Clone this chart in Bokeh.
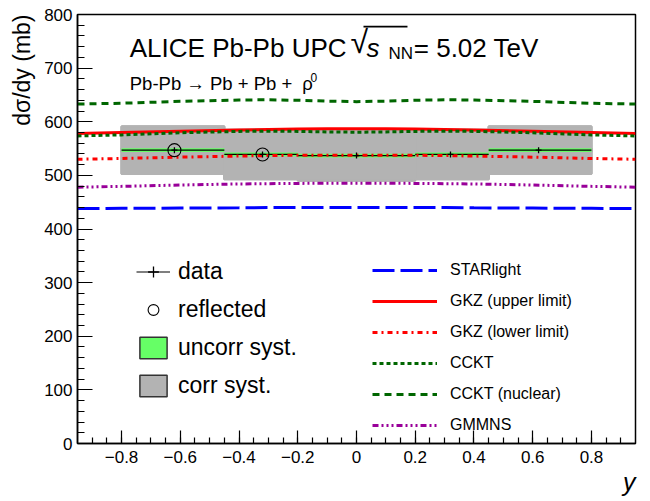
import math
from bokeh.plotting import figure
from bokeh.models import (Range1d, SingleIntervalTicker, CustomJSTickFormatter, Legend,
                          LegendItem, Label, Whisker, TeeHead, ColumnDataSource, BoxAnnotation,
                          Title)
from bokeh.embed import file_html
from bokeh.resources import INLINE

# ---------------- data ----------------
# measured bins (positive rapidity); negative side is the reflection
bin_lo = [-0.2, 0.2, 0.45]
bin_hi = [0.2, 0.45, 0.8]
bin_y = [0.0, 0.32, 0.62]
xsec = [537.0, 539.0, 547.0]
stat_err = [5.0, 5.0, 6.0]
uncorr_syst = [3.5, 3.5, 3.5]
corr_syst = [46.5, 46.0, 44.0]

# model predictions
model_rap = [-0.95, -0.8, -0.6, -0.4, -0.3, -0.2, -0.1, 0.0, 0.1, 0.2, 0.3, 0.4, 0.6, 0.8, 0.95]
starlight = [438, 438.5, 439, 439.5, 440, 440, 440, 440, 440, 440, 440, 439.5, 439, 438.5, 438]
gkz_upper = [578, 580, 582.5, 584.5, 585.5, 586.3, 586.8, 587, 586.8, 586.3, 585.5, 584.5, 582.5, 580, 578]
gkz_lower = [530, 531.5, 534, 536, 537, 537.5, 537.5, 537.5, 537.5, 537.5, 537, 536, 534, 531.5, 530]
cckt = [573.5, 575.5, 579.5, 582, 582.5, 582, 581, 580.5, 581, 582, 582.5, 582, 579.5, 575.5, 573.5]
cckt_nuclear = [633, 634.5, 638, 640.5, 641, 640, 638.5, 637.5, 638.5, 640, 641, 640.5, 638, 634.5, 633]
gmmns = [478, 479.5, 482, 484, 484.5, 485, 485.5, 485.5, 485.5, 485, 484.5, 484, 482, 479.5, 478]

# ---------------- build full (reflected + measured) bins ----------------
n = len(bin_lo)
refl_idx = list(range(n - 1, 0, -1))
all_lo = [-bin_hi[i] for i in refl_idx] + bin_lo
all_hi = [-bin_lo[i] for i in refl_idx] + bin_hi
all_y = [-bin_y[i] for i in refl_idx] + bin_y
all_x = [xsec[i] for i in refl_idx] + xsec
all_stat = [stat_err[i] for i in refl_idx] + stat_err
all_unc = [uncorr_syst[i] for i in refl_idx] + uncorr_syst
all_corr = [corr_syst[i] for i in refl_idx] + corr_syst

src = ColumnDataSource(dict(
    lo=all_lo, hi=all_hi, y=all_y, v=all_x,
    corr_lo=[v - c for v, c in zip(all_x, all_corr)],
    corr_hi=[v + c for v, c in zip(all_x, all_corr)],
    unc_lo=[v - c for v, c in zip(all_x, all_unc)],
    unc_hi=[v + c for v, c in zip(all_x, all_unc)],
    st_lo=[v - c for v, c in zip(all_x, all_stat)],
    st_hi=[v + c for v, c in zip(all_x, all_stat)],
))
refl_src = ColumnDataSource(dict(
    y=[-bin_y[i] for i in refl_idx],
    v=[xsec[i] for i in refl_idx],
))

FONT = "Liberation Sans"

p = figure(width=650, height=501, x_range=Range1d(-0.95, 0.95), y_range=Range1d(0, 800),
           output_backend="svg", toolbar_location=None,
           min_border_left=77, min_border_right=15, min_border_top=14, min_border_bottom=58)
p.grid.visible = False
p.outline_line_color = "black"
p.outline_line_width = 1.5
p.background_fill_color = "white"
p.border_fill_color = "white"

# axes
p.xaxis.ticker = SingleIntervalTicker(interval=0.2, num_minor_ticks=4)
p.yaxis.ticker = SingleIntervalTicker(interval=100, num_minor_ticks=5)
p.xaxis.formatter = CustomJSTickFormatter(code="""
if (Math.abs(tick) < 1e-9) { return "0"; }
return tick.toFixed(1).replace("-", "\u2212");
""")
for ax in (p.xaxis, p.yaxis):
    ax.major_tick_out = 0
    ax.minor_tick_out = 0
    ax.axis_line_color = "black"
    ax.axis_line_width = 1.5
    ax.major_tick_line_color = "black"
    ax.minor_tick_line_color = "black"
    ax.major_tick_line_width = 1.2
    ax.minor_tick_line_width = 1.2
    ax.major_label_text_font = FONT
    ax.major_label_text_font_size = "17px"
    ax.major_label_text_color = "black"
p.yaxis.major_tick_in = 15
p.yaxis.minor_tick_in = 7
p.xaxis.major_tick_in = 13
p.xaxis.minor_tick_in = 6
p.yaxis.major_label_standoff = 5
p.xaxis.major_label_standoff = 7

# axis titles (ROOT style: aligned to the axis end)
p.add_layout(Title(text="d\u03c3/dy (mb)", align="right", text_font=FONT, text_font_size="23px",
                   text_font_style="normal", text_color="black", standoff=13), "left")
p.add_layout(Title(text="y", align="right", text_font=FONT, text_font_size="25px",
                   text_font_style="italic", text_color="black", standoff=0), "below")

# legend-sample renderers, fully hidden below the visible boxes
unc_icon = p.quad(left="lo", right="hi", bottom="unc_lo", top="unc_hi", source=src,
                  fill_color="#66ff66", line_color="#333333", line_width=1.5)
corr_icon = p.quad(left="lo", right="hi", bottom="corr_lo", top="corr_hi", source=src,
                   fill_color="#b3b3b3", line_color="#333333", line_width=1.5)

# systematic boxes
gray_r = p.quad(left="lo", right="hi", bottom="corr_lo", top="corr_hi", source=src,
                fill_color="#b3b3b3", line_color="#b3b3b3", line_width=2.5)
green_r = p.quad(left="lo", right="hi", bottom="unc_lo", top="unc_hi", source=src,
                 fill_color="#66ff66", line_color=None)
# bin-width lines
hline_r = p.segment(x0="lo", x1="hi", y0="v", y1="v", source=src, line_color="black", line_width=1.2)
p.add_layout(Whisker(base="v", lower="lo", upper="hi", dimension="width", source=src,
                     line_alpha=0,
                     lower_head=TeeHead(size=5, line_width=1.2, line_color="black"),
                     upper_head=TeeHead(size=5, line_width=1.2, line_color="black")))

# models
m_star = p.line(model_rap, starlight, line_color="#0000ff", line_width=3, line_dash="22 6")
m_gkzu = p.line(model_rap, gkz_upper, line_color="#ff0000", line_width=3)
m_gkzl = p.line(model_rap, gkz_lower, line_color="#ff0000", line_width=3, line_dash="5 4 2 4")
m_cckt = p.line(model_rap, cckt, line_color="#006600", line_width=3, line_dash="4 3")
m_ccktn = p.line(model_rap, cckt_nuclear, line_color="#006600", line_width=3, line_dash="7 5")
m_gmmns = p.line(model_rap, gmmns, line_color="#990099", line_width=3,
                 line_dash="6 3 2 3 2 3 2 3")

# statistical error bars
p.add_layout(Whisker(base="y", lower="st_lo", upper="st_hi", dimension="height", source=src,
                     line_color="black", line_width=1.5,
                     lower_head=TeeHead(size=5, line_width=1.5, line_color="black"),
                     upper_head=TeeHead(size=5, line_width=1.5, line_color="black")))
data_pt = p.scatter(x="y", y="v", source=src, marker="cross", size=6,
                    line_color="black", line_width=1.3)
# reflected points
refl_r = p.scatter(x="y", y="v", source=refl_src, marker="circle", size=13,
                   fill_color=None, line_color="black", line_width=1.1)

leg_left = Legend(items=[
    LegendItem(label="data", renderers=[hline_r, data_pt]),
    LegendItem(label="reflected", renderers=[refl_r]),
    LegendItem(label="uncorr syst.", renderers=[unc_icon]),
    LegendItem(label="corr syst.", renderers=[corr_icon]),
], location=(59, 44), glyph_width=34, glyph_height=27, spacing=11, label_standoff=8,
    padding=0, margin=0, border_line_color=None, background_fill_alpha=0,
    label_text_font=FONT, label_text_font_size="23px", label_text_color="black")
p.add_layout(leg_left)

leg_right = Legend(items=[
    LegendItem(label="STARlight", renderers=[m_star]),
    LegendItem(label="GKZ (upper limit)", renderers=[m_gkzu]),
    LegendItem(label="GKZ (lower limit)", renderers=[m_gkzl]),
    LegendItem(label="CCKT", renderers=[m_cckt]),
    LegendItem(label="CCKT (nuclear)", renderers=[m_ccktn]),
    LegendItem(label="GMMNS", renderers=[m_gmmns]),
], location=(295, 8), glyph_width=65, glyph_height=20, spacing=11, label_standoff=13,
    padding=0, margin=0, border_line_color=None, background_fill_alpha=0,
    label_text_font=FONT, label_text_font_size="16px", label_text_color="black")
p.add_layout(leg_right)

# titles / annotations inside the frame
def lab(x, y, text, size, style="normal", align="left", baseline="alphabetic"):
    p.add_layout(Label(x=x, y=y, text=text, text_font=FONT, text_font_size=size,
                       text_font_style=style, text_align=align, text_baseline=baseline,
                       text_color="black"))

lab(-0.772, 737.2, "ALICE Pb-Pb UPC", "26px")
lab(-0.0205, 748.7, "\u221a", "32px")
p.add_layout(BoxAnnotation(left=0.0238, right=0.1736, bottom=775.8, top=778.9,
                           fill_color="black", fill_alpha=1.0, line_color=None))
lab(0.034, 737.2, "s", "26px", style="italic")
lab(0.1089, 728.0, "NN", "17px")
lab(0.195, 737.2, "= 5.02 TeV", "26px")

lab(-0.772, 670.8, "Pb-Pb \u2192 Pb + Pb +", "18.5px")
lab(-0.185, 670.8, "\u03c1", "18.5px")
lab(-0.1567, 682.5, "0", "12px")

open("out.html", "w").write(file_html(p, INLINE))
